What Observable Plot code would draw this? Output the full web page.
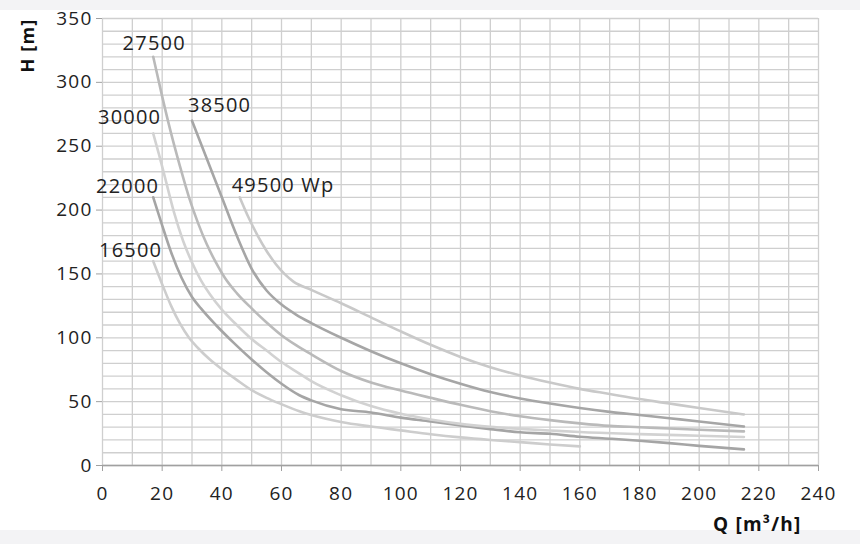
<!DOCTYPE html>
<html>
<head>
<meta charset="utf-8">
<script src="https://cdn.jsdelivr.net/npm/d3@7"></script>
<script src="https://cdn.jsdelivr.net/npm/@observablehq/plot@0.6"></script>
<style>
  html, body { margin: 0; padding: 0; }
  body {
    width: 860px; height: 544px; overflow: hidden;
    background:
      linear-gradient(#f3f3f5, #f3f3f5) top / 100% 10px no-repeat,
      linear-gradient(#f3f3f5, #f3f3f5) bottom / 100% 14px no-repeat,
      #ffffff;
  }
</style>
</head>
<body>
<div id="chart"></div>
<script>
// Q [m³/h] , H [m]
const s16500 = [[17,160],[20,142],[23,125],[26,111],[29,100],[32,92],[36,83],[40,75.5],[45,67],[50,59],[55,53],[60,48],[66,42.5],[70,39.5],[80,34],[90,30.5],[100,27.5],[110,24.5],[120,22],[130,20],[140,18.3],[150,16.5],[160,15]];
const s22000 = [[17,210],[20,188],[23,167],[26.5,147],[30,132],[33,123],[38,110],[44,96],[50,83],[55,73],[60,64],[66,55],[70,51],[80,44],[90,41.5],[100,37.5],[110,34.5],[120,31.3],[130,28.5],[140,26],[150,24.8],[160,22.5],[170,21],[180,19.4],[190,17.5],[200,15.4],[215,12.6]];
const s27500 = [[17,320],[20,289],[23,260],[26,234],[29,210],[32,190],[35,173],[38,159],[41,147],[45,135],[50,123],[55,112],[60,102],[65,94],[70,87],[80,74],[90,65],[100,58.7],[110,53],[120,47.5],[130,42.5],[140,38.5],[150,35.5],[160,33],[170,31],[180,30],[190,29],[200,28],[215,26.7]];
const s30000 = [[17,260],[19,243],[21,225],[24,198],[27,176],[30,159],[33,145],[36,134],[40,122],[45,110],[50,99],[55,90],[60,81],[66,72],[70,66],[80,55],[90,46.5],[100,40.5],[110,36],[120,32.6],[130,30.3],[140,28.7],[150,27.4],[160,26.2],[180,24.6],[200,23.3],[215,22.3]];
const s38500 = [[30,270],[35,240],[40,210],[45,180],[50,154],[55,137],[60,126],[65,118],[70,111.5],[80,100],[90,89.5],[100,80],[110,71.5],[120,64],[130,57.5],[140,52.5],[150,48.5],[160,45],[170,42],[180,39.5],[190,37],[200,34.5],[215,30.5]];
const s49500 = [[46,210],[49,194],[52,180],[55,168],[58,158],[61,150],[64,144],[70,137.5],[80,127],[90,116],[100,105],[110,94.5],[120,85],[130,77],[140,70.5],[150,65],[160,60],[170,56],[180,52],[190,48.5],[200,45],[215,40]];

const seriesNames  = ["16500", "22000", "27500", "30000", "38500", "49500"];
const seriesLabels = ["16500", "22000", "27500", "30000", "38500", "49500 Wp"];
const seriesPoints = [s16500, s22000, s27500, s30000, s38500, s49500];

const xTicks = [0, 20, 40, 60, 80, 100, 120, 140, 160, 180, 200, 220, 240];
const yTicks = [0, 50, 100, 150, 200, 250, 300, 350];
const xGrid = d3.range(0, 241, 10);
const yGrid = d3.range(0, 351, 10);

// styling (not data)
const colors = {"16500": "#cdcdcd", "22000": "#a5a5a5", "27500": "#bababa", "30000": "#d2d2d2", "38500": "#a6a6a6", "49500": "#c9c9c9"};
const labelStyle = {
  "16500": {anchor: "end", dx: 9, dy: -11},
  "22000": {anchor: "end", dx: 6, dy: -11},
  "27500": {anchor: "middle", dx: 1, dy: -13},
  "30000": {anchor: "end", dx: 8, dy: -16},
  "38500": {anchor: "start", dx: -4, dy: -15},
  "49500": {anchor: "start", dx: -8, dy: -12}
};

const rows = seriesNames.flatMap((n, i) => seriesPoints[i].map(([q, h]) => ({series: n, q, h})));
const labels = seriesNames.map((n, i) => ({series: n, text: seriesLabels[i], q: seriesPoints[i][0][0], h: seriesPoints[i][0][1]}));

const labelMarks = labels.map(l => Plot.text([l], {
  x: "q", y: "h", text: "text",
  textAnchor: labelStyle[l.series].anchor,
  dx: labelStyle[l.series].dx, dy: labelStyle[l.series].dy,
  fill: "#222", fontSize: 20
}));

const chart = Plot.plot({
  width: 860,
  height: 544,
  marginLeft: 102,
  marginRight: 42,
  marginTop: 18,
  marginBottom: 79,
  style: {fontFamily: "'Open Sans', sans-serif", fontSize: "19px", color: "#222", background: "transparent", letterSpacing: "1.2px"},
  x: {domain: [0, 240]},
  y: {domain: [0, 350]},
  marks: [
    Plot.gridX(xGrid, {stroke: "#cfcfcf", strokeOpacity: 1, strokeWidth: 1.3}),
    Plot.gridY(yGrid, {stroke: "#cfcfcf", strokeOpacity: 1, strokeWidth: 1.3}),
    Plot.ruleY([0], {stroke: "#a0a0a0", strokeWidth: 1.3}),
    Plot.axisX({ticks: xTicks, tickSize: 6, tickPadding: 15, stroke: "#a0a0a0", fill: "#222", label: null, fontSize: 19}),
    Plot.axisY({ticks: yTicks, tickSize: 6, tickPadding: 4, stroke: "#a0a0a0", fill: "#222", label: null, fontSize: 19}),
    Plot.line(rows, {x: "q", y: "h", z: "series", stroke: d => colors[d.series], strokeWidth: 2.6, curve: "monotone-x"}),
    ...labelMarks,
    Plot.text(["H [m]"], {frameAnchor: "top-left", dx: -81, dy: 0, rotate: -90, textAnchor: "end", fontWeight: "bold", fontSize: 18, fill: "#111", letterSpacing: "0.5px"}),
    Plot.text(["Q [m³/h]"], {frameAnchor: "bottom-right", dx: -17, dy: 65, textAnchor: "end", fontWeight: "bold", fontSize: 19, fill: "#111", letterSpacing: "0.5px"})
  ]
});
document.getElementById("chart").appendChild(chart);
</script>
</body>
</html>
